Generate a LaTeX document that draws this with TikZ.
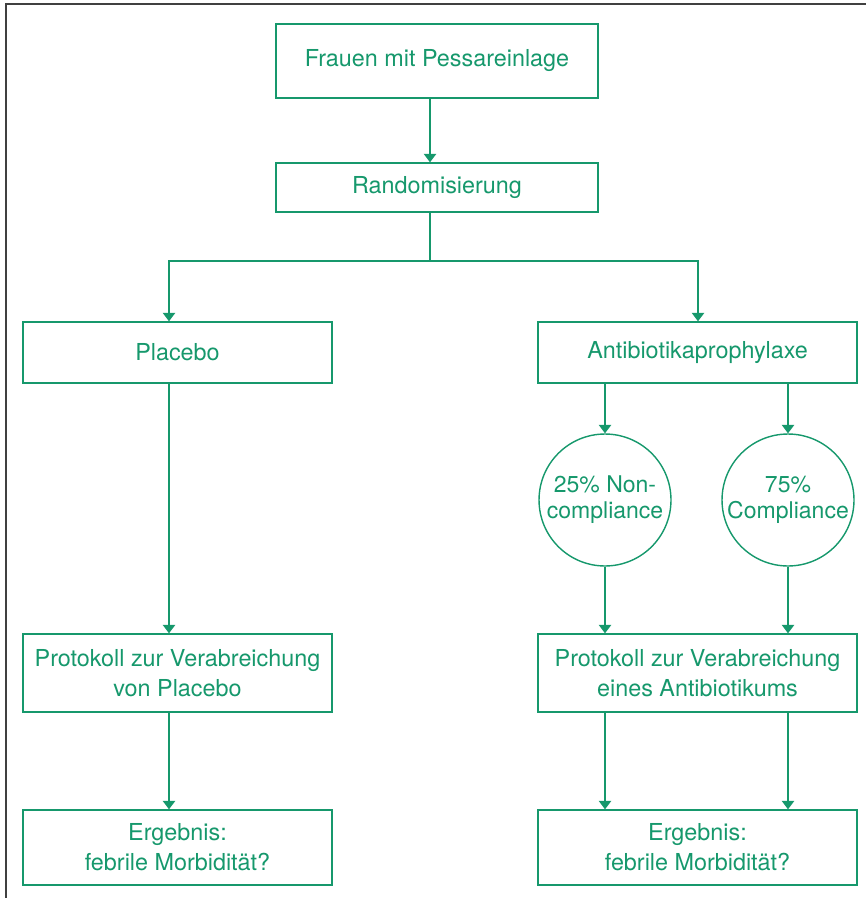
\documentclass[tikz,border=0pt]{standalone}
\usepackage{fontspec}
\setmainfont{TeX Gyre Heros}
\usepackage{xcolor}
\usepackage{tikz}
\usetikzlibrary{arrows.meta}
\definecolor{studygreen}{RGB}{22,152,108}

\begin{document}
\begin{tikzpicture}[x=0.02cm,y=-0.02cm,
 box/.style={draw=studygreen, line width=0.8pt, inner sep=0pt, align=center, text=studygreen, font=\fontsize{13.3}{17}\selectfont},
 circ/.style={draw=studygreen, line width=0.8pt, circle, inner sep=0pt, minimum size=2.64cm, align=center, text=studygreen, font=\fontsize{13.1}{14.8}\selectfont},
 arr/.style={draw=studygreen, line width=0.7pt, -{Triangle[width=0.25cm,length=0.17cm]}},
 ln/.style={draw=studygreen, line width=0.7pt}]
\useasboundingbox (0,0) rectangle (866,898);
\draw[black!75, line width=1pt] (6,898) -- (6,4) -- (866,4);
\node[box, minimum width=6.44cm, minimum height=1.48cm] (frauen) at (437,61) {Frauen mit Pessareinlage};
\node[box, minimum width=6.44cm, minimum height=0.98cm] (random) at (437,187.5) {Randomisierung};
\node[box, minimum width=6.18cm, minimum height=1.22cm] (placebo) at (177.5,352.5) {Placebo};
\node[box, minimum width=6.38cm, minimum height=1.22cm] (antibio) at (697.5,352.5) {Antibiotikaprophylaxe};
\node[circ] (noncomp) at (605,500) {25\% Non-\\compliance};
\node[circ] (comp) at (788,500) {75\%\\Compliance};
\node[box, minimum width=6.18cm, minimum height=1.56cm] (protplac) at (177.5,673) {Protokoll zur Verabreichung\\von Placebo};
\node[box, minimum width=6.38cm, minimum height=1.56cm] (protanti) at (697.5,673) {Protokoll zur Verabreichung\\eines Antibiotikums};
\node[box, minimum width=6.18cm, minimum height=1.5cm] (ergplac) at (177.5,847.5) {Ergebnis:\\febrile Morbidit\"at?};
\node[box, minimum width=6.38cm, minimum height=1.5cm] (erganti) at (697.5,847.5) {Ergebnis:\\febrile Morbidit\"at?};
\coordinate (split) at (430,261);
\draw[arr] ([xshift=-0.14cm]frauen.south) -- ([xshift=-0.14cm]random.north);
\draw[ln] (random.south -| split) -- (split);
\draw[arr] (split) -| ([xshift=-0.17cm]placebo.north);
\draw[arr] (split) -| ([xshift=0.01cm]antibio.north);
\draw[arr] ([xshift=-0.17cm]placebo.south) -- ([xshift=-0.17cm]protplac.north);
\draw[arr] ([xshift=-0.17cm]protplac.south) -- ([xshift=-0.17cm]ergplac.north);
\draw[arr] (antibio.south -| noncomp) -- (noncomp.north);
\draw[arr] (antibio.south -| comp) -- (comp.north);
\draw[arr] (noncomp.south) -- (noncomp.south |- protanti.north);
\draw[arr] (comp.south) -- (comp.south |- protanti.north);
\draw[arr] (protanti.south -| noncomp) -- (erganti.north -| noncomp);
\draw[arr] (protanti.south -| comp) -- (erganti.north -| comp);
\end{tikzpicture}
\end{document}
